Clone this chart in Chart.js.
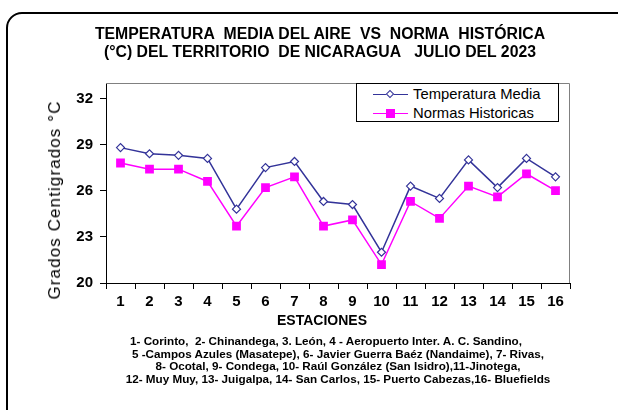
<!DOCTYPE html>
<html>
<head>
<meta charset="utf-8">
<script src="https://cdn.jsdelivr.net/npm/chart.js@4"></script>
<style>
  html, body { margin: 0; padding: 0; background: #fff; }
  body { width: 618px; height: 410px; position: relative; overflow: hidden; font-family: 'Liberation Sans', Arial, sans-serif; }
  #marco { position: absolute; left: 6px; top: 12px; width: 630px; height: 420px; border: 2px solid #000; border-radius: 16px; }
  #grafico { position: absolute; left: 0; top: 0; }
  .txt { position: absolute; white-space: nowrap; color: #000; }
  #titulo { left: 20px; width: 600px; top: 25px; text-align: center; font-weight: bold; font-size: 15.8px; line-height: 18px; }
  #ytitulo { left: 55px; top: 200px; transform: translate(-50%, -50%) rotate(-90deg); font-size: 17px; letter-spacing: 1.1px; }
  #xtitulo { left: 272px; width: 100px; top: 312px; text-align: center; font-weight: bold; font-size: 14px; line-height: 16px; }
  #notas { left: 38px; width: 600px; top: 335px; text-align: center; font-weight: bold; font-size: 11.7px; line-height: 12.7px; font-family: 'Liberation Sans Narrow', 'Arial Narrow', 'Liberation Sans', Arial, sans-serif; }
  #notas .l1 { margin-right: 24px; }
  #leyenda { position: absolute; left: 356px; top: 83px; width: 201px; height: 37px; border: 1px solid #000; background: #fff; }
  .fila { position: absolute; left: 16px; width: 180px; height: 18px; font-size: 14.8px; line-height: 18px; white-space: nowrap; }
  .linea { position: absolute; left: 0; top: 9px; width: 35px; height: 0; border-top: 1.5px solid; }
  .marca { position: absolute; box-sizing: border-box; }
  .fila span { position: absolute; left: 40px; top: 0; white-space: nowrap; }
</style>
</head>
<body>
<div id="marco"></div>
<canvas id="grafico" width="618" height="410"></canvas>
<div id="titulo" class="txt">TEMPERATURA&nbsp; MEDIA DEL AIRE&nbsp; VS&nbsp; NORMA&nbsp; HISTÓRICA<br>(°C) DEL TERRITORIO&nbsp; DE NICARAGUA&nbsp;&nbsp; JULIO DEL 2023</div>
<div id="ytitulo" class="txt">Grados Centigrados °C</div>
<div id="xtitulo" class="txt">ESTACIONES</div>
<div id="notas" class="txt"><span class="l1">1- Corinto,&nbsp; 2- Chinandega, 3. León, 4 - Aeropuerto Inter. A. C. Sandino,</span><br>5 -Campos Azules (Masatepe), 6- Javier Guerra Baéz (Nandaime), 7- Rivas,<br>8- Ocotal, 9- Condega, 10- Raúl González (San Isidro),11-Jinotega,<br>12- Muy Muy, 13- Juigalpa, 14- San Carlos, 15- Puerto Cabezas,16- Bluefields</div>
<div id="leyenda"></div>
<script>
// Datos (°C)
const estaciones = ['1', '2', '3', '4', '5', '6', '7', '8', '9', '10', '11', '12', '13', '14', '15', '16'];
const temperaturaMedia = [28.8, 28.4, 28.3, 28.1, 24.8, 27.5, 27.9, 25.3, 25.1, 22.0, 26.3, 25.5, 28.0, 26.2, 28.1, 26.9];
const normasHistoricas = [27.8, 27.4, 27.4, 26.6, 23.7, 26.2, 26.9, 23.7, 24.1, 21.2, 25.3, 24.2, 26.3, 25.6, 27.1, 26.0];
const ticksY = [20, 23, 26, 29, 32];

const AZUL = '#333399';
const MAGENTA = '#ff00ff';

// Borde gris arriba y a la derecha del área de trazado
const bordeArea = {
    id: 'bordeArea',
    beforeDatasetsDraw(chart) {
        const { ctx, chartArea: a } = chart;
        ctx.save();
        ctx.strokeStyle = '#808080';
        ctx.lineWidth = 1;
        ctx.beginPath();
        ctx.moveTo(a.left, a.top + 0.5);
        ctx.lineTo(a.right - 0.5, a.top + 0.5);
        ctx.lineTo(a.right - 0.5, a.bottom);
        ctx.stroke();
        ctx.restore();
    }
};

const ctx = document.getElementById('grafico').getContext('2d');
const grafico = new Chart(ctx, {
    type: 'line',
    data: {
        labels: estaciones,
        datasets: [
            {
                label: 'Temperatura Media',
                data: temperaturaMedia,
                borderColor: AZUL,
                borderWidth: 1.5,
                backgroundColor: '#ffffff',
                pointStyle: 'rectRot',
                pointRadius: 4,
                pointBorderWidth: 1.2,
                pointBorderColor: AZUL,
                pointBackgroundColor: '#ffffff',
                tension: 0
            },
            {
                label: 'Normas Historicas',
                data: normasHistoricas,
                borderColor: MAGENTA,
                borderWidth: 1.5,
                backgroundColor: MAGENTA,
                pointStyle: 'rect',
                pointRadius: 6.2,
                pointBorderWidth: 0,
                pointBackgroundColor: MAGENTA,
                tension: 0
            }
        ]
    },
    options: {
        responsive: false,
        animation: false,
        layout: { padding: { top: 83, right: 48, left: 0, bottom: 0 } },
        plugins: {
            legend: { display: false },
            tooltip: { enabled: false }
        },
        scales: {
            x: {
                offset: true,
                afterFit: function(scale) { scale.height = 127; },
                grid: { display: true, drawOnChartArea: false, drawTicks: true, tickLength: 6, color: '#000', offset: true },
                border: { display: true, color: '#000', width: 1 },
                ticks: {
                    color: '#000',
                    padding: 4,
                    maxRotation: 0,
                    autoSkip: false,
                    font: { size: 15, weight: 'bold', family: "'Liberation Sans', Arial, sans-serif" }
                }
            },
            y: {
                min: 20,
                max: 33,
                afterFit: function(scale) { scale.width = 106; },
                afterBuildTicks: function(scale) { scale.ticks = ticksY.map(v => ({ value: v })); },
                grid: { display: true, drawOnChartArea: false, drawTicks: true, tickLength: 6, color: '#000' },
                border: { display: true, color: '#000', width: 1 },
                ticks: {
                    color: '#000',
                    padding: 7,
                    font: { size: 15, weight: 'bold', family: "'Liberation Sans', Arial, sans-serif" }
                }
            }
        }
    },
    plugins: [bordeArea]
});

// Leyenda dentro del área de trazado
const leyenda = document.getElementById('leyenda');
grafico.data.datasets.forEach(function(ds, i) {
    const fila = document.createElement('div');
    fila.className = 'fila';
    fila.style.top = (i === 0 ? 1 : 20) + 'px';
    const linea = document.createElement('div');
    linea.className = 'linea';
    linea.style.borderColor = ds.borderColor;
    const marca = document.createElement('div');
    marca.className = 'marca';
    if (ds.pointStyle === 'rectRot') {
        marca.style.cssText = 'left:14px;top:6px;width:6px;height:6px;border:1.2px solid ' + ds.borderColor + ';background:#fff;transform:rotate(45deg);';
    } else {
        marca.style.cssText = 'left:13px;top:5px;width:9px;height:9px;background:' + ds.borderColor + ';';
    }
    const texto = document.createElement('span');
    texto.textContent = ds.label;
    fila.appendChild(linea);
    fila.appendChild(marca);
    fila.appendChild(texto);
    leyenda.appendChild(fila);
});
</script>
</body>
</html>
